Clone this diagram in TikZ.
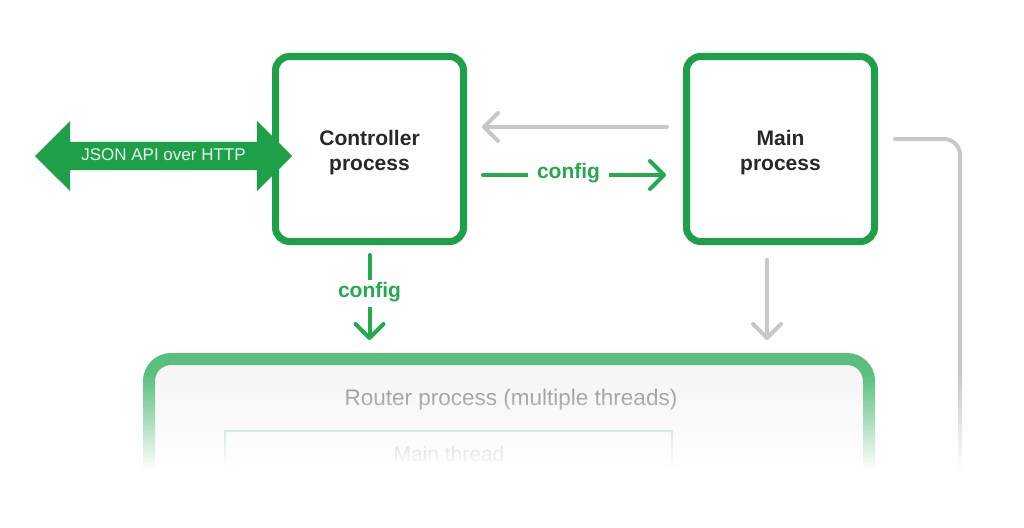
\documentclass[tikz,border=0pt]{standalone}
\usepackage{fontspec}
\setmainfont{Liberation Sans}
\usetikzlibrary{arrows.meta,shapes.arrows}
\definecolor{boxgreen}{RGB}{30,160,72}
\definecolor{cfggreen}{RGB}{38,170,80}
\definecolor{arrgray}{RGB}{200,200,200}
\definecolor{txtdark}{RGB}{40,40,40}
\definecolor{routergreen}{RGB}{90,190,126}
\definecolor{routerfill}{RGB}{246,246,246}
\definecolor{routertxt}{RGB}{140,140,140}
\definecolor{innergreen}{RGB}{150,212,172}
\definecolor{jsontxt}{RGB}{232,245,236}
\begin{document}
\begin{tikzpicture}[x=1pt,y=-1pt,
  procbox/.style={draw=boxgreen, line width=7pt, rounded corners=14pt, fill=white,
    minimum width=188pt, minimum height=185pt, align=center, text=txtdark,
    font=\fontsize{21}{25}\selectfont\bfseries},
  grayarrow/.style={draw=arrgray, line width=4pt, line cap=round,
    -{Straight Barb[length=14pt,width=28pt,round]}},
  grayline/.style={draw=arrgray, line width=4pt, line cap=round},
  cfgarrow/.style={draw=cfggreen, line width=4pt, line cap=round,
    -{Straight Barb[length=14pt,width=28pt,round]}},
  cfglabel/.style={fill=white, text=cfggreen, inner xsep=9pt, inner ysep=5pt,
    text height=12pt, text depth=5pt,
    font=\fontsize{21}{25}\selectfont\bfseries},
  jsonarrow/.style={double arrow, fill=boxgreen, text=jsontxt,
    minimum height=257pt, double arrow head extend=21pt, double arrow head indent=0pt,
    inner xsep=4pt, inner ysep=6.5pt, text height=12pt, text depth=3pt,
    font=\fontsize{17}{20}\selectfont}
]
\useasboundingbox (0,0) rectangle (1024,527);
\fill[white] (0,0) rectangle (1024,527);

% router process (fading out at the bottom)
\node[draw=routergreen, line width=12pt, rounded corners=22pt, fill=routerfill,
      minimum width=720pt, minimum height=170pt, anchor=north] (router) at (509,353) {};
\node[text=routertxt, font=\fontsize{22.5}{26}\selectfont] (routerlbl) at (511,400) {Router process (multiple threads)};
\node[draw=innergreen, line width=2pt, fill=routerfill, minimum width=447pt, minimum height=80pt,
      anchor=north] (mainthread) at (448.5,430) {};
\node[text=routertxt, font=\fontsize{21}{25}\selectfont] (mtlbl) at (449,454) {Main thread};

% process boxes
\node[procbox] (ctrl) at (369.5,149) {\rule{0pt}{23pt}Controller\\process};
\node[procbox] (main) at (780.5,149) {\rule{0pt}{23pt}Main\\process};

% JSON API arrow
\node[jsonarrow] (json) at (163.5,156) {JSON API over HTTP};

% main -> controller (gray)
\draw[grayarrow, shorten <=16pt, shorten >=15pt] (main.west |- 0,127) -- (ctrl.east |- 0,127);
% controller -> main config
\draw[cfgarrow, shorten <=16pt, shorten >=17pt] (ctrl.east |- 0,175) -- node[cfglabel, pos=0.47] (cfgr) {config} (main.west |- 0,175);
% controller -> router config
\draw[cfgarrow, shorten <=10pt, shorten >=13pt] (ctrl.south) -- node[cfglabel, inner xsep=4pt, pos=0.45] (cfgd) {config} (ctrl.south |- router.north);
% main -> router (gray)
\draw[grayarrow, shorten <=15pt, shorten >=13pt] (767,0 |- main.south) -- (767,0 |- router.north);
% main -> right side line
\coordinate (grayend) at (960,520);
\draw[grayline, rounded corners=16pt, shorten <=17pt] (main.east |- 0,139) -- (960,139) -- (grayend);

% fade-out of the bottom: stacked white bands of rising opacity
\foreach \i in {0,...,47} {
  \pgfmathsetmacro\op{(\i+1)/48}
  \fill[white, opacity=\op] (0,{375+2*\i}) rectangle (1024,{377+2*\i});
}
\fill[white] (0,470) rectangle (1024,560);
\end{tikzpicture}
\end{document}
